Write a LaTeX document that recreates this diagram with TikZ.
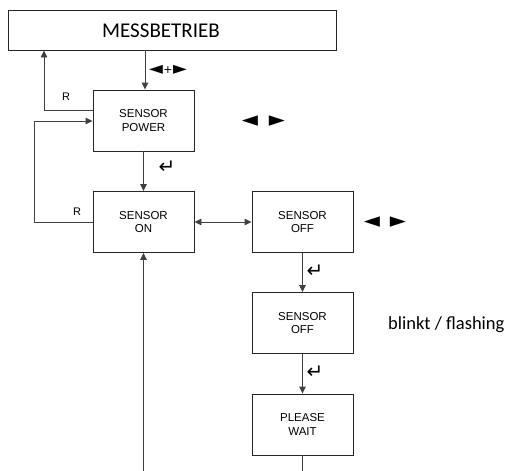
\documentclass[tikz,border=0pt]{standalone}
\usepackage{fontspec}
\setmainfont{Liberation Sans}
\newfontfamily\calib{Carlito}
\newfontfamily\djv{DejaVu Sans}
\usetikzlibrary{arrows.meta}
\begin{document}
\begin{tikzpicture}[x=1pt,y=-1pt,
  box/.style={draw=black!85,line width=0.9pt,minimum width=101pt,minimum height=61pt,inner sep=0pt,align=center,font=\fontsize{11.5}{13.3}\selectfont},
  conn/.style={draw=black!75,line width=0.9pt},
  arr/.style={conn,-{Triangle[length=7pt,width=6.5pt]}},
  darr/.style={conn,{Triangle[length=7pt,width=6.5pt]}-{Triangle[length=7pt,width=6.5pt]}},
  tri/.style={font=\djv\fontsize{21}{21}\selectfont,inner sep=0pt},
  ent/.style={font=\djv\fontsize{20}{20}\selectfont,inner sep=0pt},
  lbl/.style={font=\fontsize{11}{11}\selectfont,inner sep=0pt}]
\useasboundingbox (0,0) rectangle (506,471);
\node[draw=black!85,line width=0.9pt,minimum width=328pt,minimum height=40pt,inner sep=0pt] (mess) at (172,30) {};
\node[font=\calib\fontsize{21}{21}\selectfont,inner sep=0pt] (messt) at (161,31) {MESSBETRIEB};
\node[box] (power) at (143.5,120.5) {SENSOR\\POWER};
\node[box] (on) at (143.5,222) {SENSOR\\ON};
\node[box] (off1) at (302.5,222) {SENSOR\\OFF};
\node[box] (off2) at (302.5,323) {SENSOR\\OFF};
\node[box] (wait) at (302.5,424.5) {PLEASE\\WAIT};
\coordinate (bl) at (143.5,471);
\coordinate (br) at (302.5,471);
% connectors
\draw[arr] (mess.south -| 145,0) -- (power.north -| 145,0);
\draw[arr] (power.west |- 0,110) -- (44,110) -- (mess.south -| 44,0);
\draw[arr] (on.west) -- (34,222) -- (34,121) -- (power.west |- 0,121);
\draw[arr] (power) -- (on);
\draw[darr] (on) -- (off1);
\draw[arr] (off1) -- (off2);
\draw[arr] (off2) -- (wait);
\draw[conn] (wait) -- (br);
\draw[arr] (bl) -- (on);
% labels
\node[font=\djv\fontsize{18}{18}\selectfont,inner sep=0pt] (pm) at (168,69.5) {◄\kern0.5pt\raisebox{1pt}{\fontsize{11}{11}\selectfont +}\kern0.5pt►};
\node[lbl] (r1) at (66,97) {R};
\node[lbl] (r2) at (77,212) {R};
\node[tri] (l1) at (250,121) {◄};
\node[tri] (r1a) at (277,121) {►};
\node[tri] (l2) at (372,222) {◄};
\node[tri] (r2a) at (398,222) {►};
\node[ent] (e1) at (167,167) {↵};
\node[ent] (e2) at (315,271) {↵};
\node[ent] (e3) at (315,372) {↵};
\node[font=\calib\fontsize{18.5}{18.5}\selectfont,inner sep=0pt,anchor=west] (blk) at (388,325) {blinkt / flashing};
\end{tikzpicture}
\end{document}
